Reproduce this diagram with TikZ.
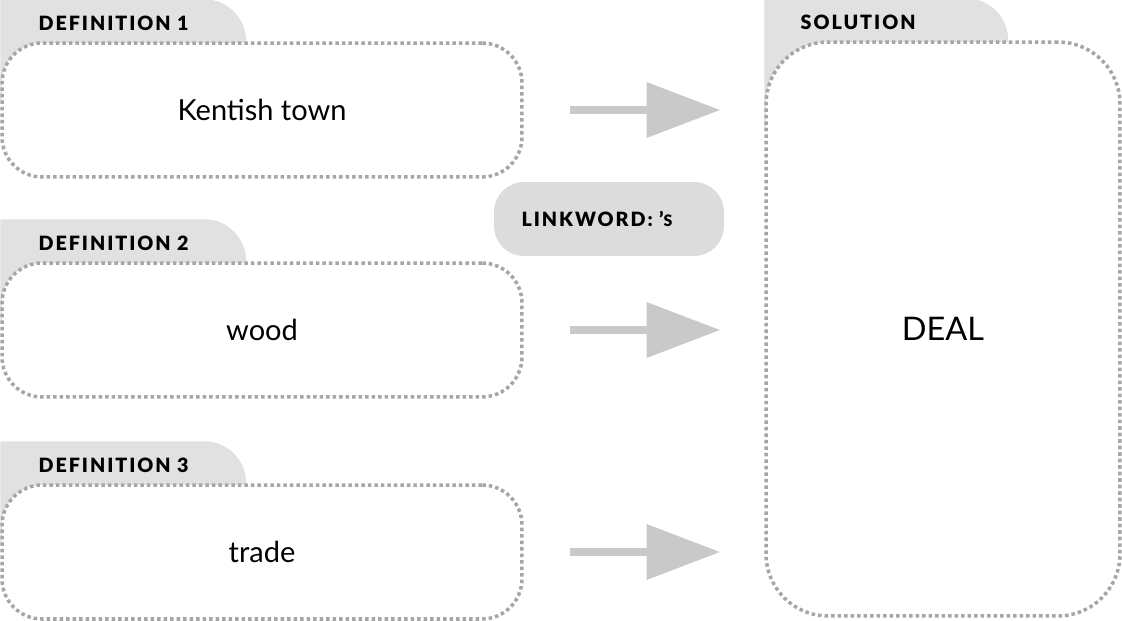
\documentclass[tikz,border=0pt]{standalone}
\usepackage{fontspec}
\setmainfont{Lato}
\newfontfamily\tabfont[LetterSpace=10]{Lato Black}
\usetikzlibrary{arrows.meta, positioning, calc, backgrounds}
\definecolor{TG}{RGB}{225,225,226}
\definecolor{LK}{RGB}{220,220,221}
\definecolor{AR}{RGB}{201,201,201}
\definecolor{DT}{RGB}{166,166,166}

\begin{document}
\begin{tikzpicture}[x=0.02cm, y=0.02cm,
  box/.style={draw=DT, fill=white, line width=2pt,
              dash pattern=on 2pt off 1.7pt,
              minimum width=10.4cm, minimum height=2.68cm,
              rounded corners=0.8cm, align=center,
              font=\fontsize{16.5}{20}\selectfont},
  solbox/.style={box, minimum width=7.08cm, minimum height=11.48cm,
                 rounded corners=1.24cm, font=\fontsize{18.5}{22}\selectfont},
  tabtext/.style={anchor=west, inner sep=0pt,
                  font=\tabfont\fontsize{11.2}{13}\selectfont},
  linkbox/.style={fill=LK, minimum width=4.6cm, minimum height=1.48cm,
                  rounded corners=0.6cm,
                  font=\tabfont\fontsize{11.2}{13}\selectfont},
  arr/.style={-{Triangle[length=42pt, width=30.6pt]}, line width=0.16cm,
              draw=AR, shorten <=0.92cm, shorten >=0.88cm}
]
\useasboundingbox (0,0) rectangle (1122,620);

% Definition boxes
\node[box] (def1) at (262,510) {Kentish town};
\node[box] (def2) at (262,290) {wood};
\node[box] (def3) at (262,68)  {trade};

% Solution box
\node[solbox] (sol) at (943,291) {DEAL};

% Linkword
\node[linkbox] (link) at (609,401) {\hspace*{-0.48cm}LINKWORD: ’{\fontsize{9}{10}\selectfont S}};

% Tabs
\begin{pgfonlayer}{background}
\fill[TG] ([yshift=-1.2cm]def1.north west) -- ([yshift=0.84cm]def1.north west)
  -- ++(4.08cm,0) arc[start angle=90, end angle=0, radius=0.84cm] -- ++(0,-1.2cm) -- cycle;
\fill[TG] ([yshift=-1.2cm]def2.north west) -- ([yshift=0.84cm]def2.north west)
  -- ++(4.08cm,0) arc[start angle=90, end angle=0, radius=0.84cm] -- ++(0,-1.2cm) -- cycle;
\fill[TG] ([yshift=-1.2cm]def3.north west) -- ([yshift=0.84cm]def3.north west)
  -- ++(4.08cm,0) arc[start angle=90, end angle=0, radius=0.84cm] -- ++(0,-1.2cm) -- cycle;
\fill[TG] ([yshift=-1.8cm]sol.north west) -- ([yshift=0.84cm]sol.north west)
  -- ++(4.04cm,0) arc[start angle=90, end angle=0, radius=0.84cm] -- ++(0,-1.8cm) -- cycle;
\end{pgfonlayer}

\node[tabtext] (tab1) at ([xshift=0.76cm, yshift=0.36cm]def1.north west) {DEFINITION 1};
\node[tabtext] (tab2) at ([xshift=0.76cm, yshift=0.36cm]def2.north west) {DEFINITION 2};
\node[tabtext] (tab3) at ([xshift=0.76cm, yshift=0.36cm]def3.north west) {DEFINITION 3};
\node[tabtext] (tabs) at ([xshift=0.72cm, yshift=0.36cm]sol.north west) {SOLUTION};

% Arrows
\draw[arr] (def1.east) -- (def1.east -| sol.west);
\draw[arr] (def2.east) -- (def2.east -| sol.west);
\draw[arr] (def3.east) -- (def3.east -| sol.west);
\end{tikzpicture}
\end{document}
